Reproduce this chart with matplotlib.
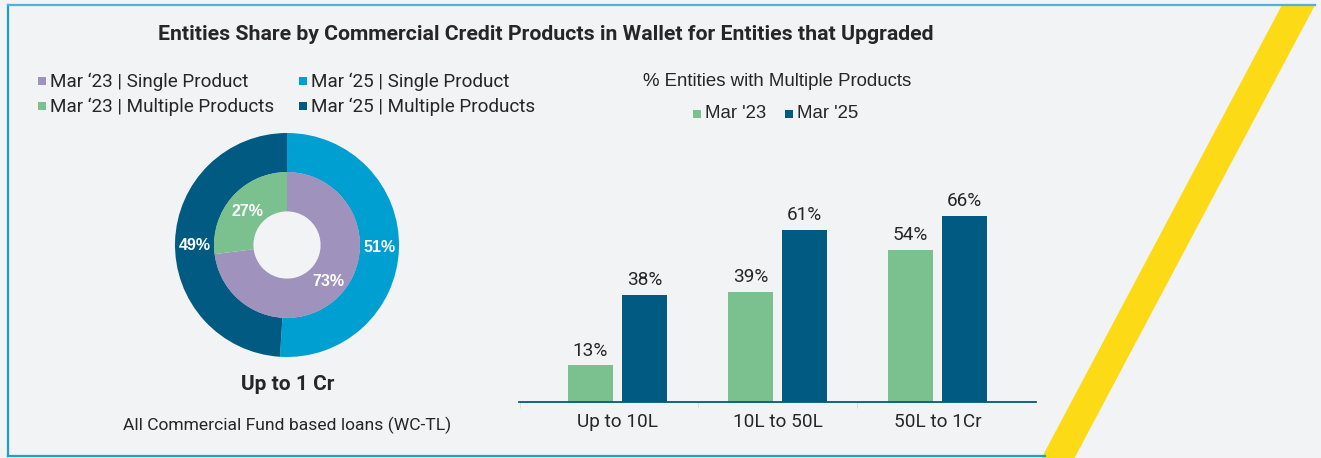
import matplotlib.pyplot as plt
from matplotlib.patches import Polygon, Rectangle
from matplotlib.lines import Line2D
import numpy as np

W, H = 1321, 458

# donut data
outer_labels = ["Mar \u201825 | Single Product", "Mar \u201825 | Multiple Products"]
outer_vals = [51, 49]
inner_labels = ["Mar \u201823 | Single Product", "Mar \u201823 | Multiple Products"]
inner_vals = [73, 27]

# bar data
bands = ["Up to 10L", "10L to 50L", "50L to 1Cr"]
mar23 = [13, 39, 54]
mar25 = [38, 61, 66]

c_purple = "#9F93BE"
c_green = "#7BC08F"
c_lblue = "#009FD1"
c_dblue = "#005A82"
bg = "#F2F3F5"
txt = "#262626"

fig = plt.figure(figsize=(W / 100, H / 100), dpi=100, facecolor=bg)


def px(x, y):
    return x / W, 1 - y / H


def ftext(x, y, s, **kw):
    fx, fy = px(x, y)
    fig.text(fx, fy, s, **kw)


# frame and yellow stripe
fig.add_artist(Line2D([px(8, 0)[0], px(8, 0)[0]], [px(0, 5)[1], px(0, 456)[1]],
                      color="#1BA0D4", lw=1.6, transform=fig.transFigure))
fig.add_artist(Line2D([px(8, 0)[0], px(1315, 0)[0]], [px(0, 5)[1]] * 2,
                      color="#4DB3D9", lw=1.6, transform=fig.transFigure))
fig.add_artist(Line2D([px(8, 0)[0], px(1045, 0)[0]], [px(0, 456)[1]] * 2,
                      color="#1BA0D4", lw=1.6, transform=fig.transFigure))
fig.add_artist(Polygon([px(1282, 5), px(1315, 5), px(1074, 459), px(1041, 459)],
                       closed=True, facecolor="#FDDA16", edgecolor="none",
                       transform=fig.transFigure))

ftext(546, 34, "Entities Share by Commercial Credit Products in Wallet for Entities that Upgraded",
      ha="center", va="center", fontsize=15.3, fontweight="bold", family="Roboto", color=txt)

# donut
cx, cy, R = 287, 245, 112
l, b = px(cx - R, cy + R)
ax_p = fig.add_axes([l, b, 2 * R / W, 2 * R / H])
ax_p.pie(outer_vals, colors=[c_lblue, c_dblue], startangle=90, counterclock=False,
         radius=1, wedgeprops=dict(width=0.35, edgecolor="none"))
ax_p.pie(inner_vals, colors=[c_purple, c_green], startangle=90, counterclock=False,
         radius=0.652, wedgeprops=dict(width=0.352, edgecolor="none"))
ax_p.set_aspect("equal")
ax_p.set_xlim(-1, 1)
ax_p.set_ylim(-1, 1)
ax_p.axis("off")

lab_kw = dict(ha="center", va="center", fontsize=11.5, fontweight="bold",
              family="Liberation Sans", color="white")
ax_p.text((380 - cx) / R, -(248 - cy) / R, f"{outer_vals[0]}%", **lab_kw)
ax_p.text((195 - cx) / R, -(245 - cy) / R, f"{outer_vals[1]}%", **lab_kw)
ax_p.text((328 - cx) / R, -(282 - cy) / R, f"{inner_vals[0]}%", **lab_kw)
ax_p.text((247 - cx) / R, -(211 - cy) / R, f"{inner_vals[1]}%", **lab_kw)

ftext(288, 385, "Up to 1 Cr", ha="center", va="center", fontsize=15,
      fontweight="bold", family="Roboto", color=txt)
ftext(287, 425, "All Commercial Fund based loans (WC-TL)", ha="center", va="center",
      fontsize=12.6, family="Roboto", color=txt)

# donut legend
leg = [(42, 81, c_purple, inner_labels[0]), (303, 81, c_lblue, outer_labels[0]),
       (42, 106, c_green, inner_labels[1]), (303, 106, c_dblue, outer_labels[1])]
for x, y, c, s in leg:
    fig.add_artist(Rectangle(px(x - 4, y + 4), 8 / W, 8 / H, facecolor=c,
                             edgecolor="none", transform=fig.transFigure))
    ftext(x + 8, y + 1, s, ha="left", va="center", fontsize=13.6, family="Roboto", color=txt)

# bar chart
ftext(777, 82, "% Entities with Multiple Products", ha="center", va="center",
      fontsize=13.4, family="Liberation Sans", color=txt)
for x, c, s in [(697, c_green, "Mar '23"), (789, c_dblue, "Mar '25")]:
    fig.add_artist(Rectangle(px(x - 4, 114 + 4), 8 / W, 8 / H, facecolor=c,
                             edgecolor="none", transform=fig.transFigure))
    ftext(x + 8, 114, s, ha="left", va="center", fontsize=13.4,
          family="Liberation Sans", color=txt)

scale = 2.82
top = 80
l, b = px(519, 402)
ax = fig.add_axes([l, b, (1036 - 519) / W, top * scale / H])
ax.set_facecolor("none")
xs = np.arange(len(bands))
off, bw = 27 / 160, 45 / 160
b1 = ax.bar(xs - off, mar23, bw, color=c_green)
b2 = ax.bar(xs + off, mar25, bw, color=c_dblue)
for bars in (b1, b2):
    for r in bars:
        ax.annotate(f"{int(r.get_height())}%", (r.get_x() + r.get_width() / 2, r.get_height()),
                    xytext=(0, 4), textcoords="offset points", ha="center", va="bottom",
                    fontsize=13.7, family="Roboto", color=txt)
ax.set_xlim(-0.616, 2.616)
ax.set_ylim(0, top)
for s in ["top", "right", "left"]:
    ax.spines[s].set_visible(False)
ax.spines["bottom"].set_color(c_dblue)
ax.spines["bottom"].set_linewidth(1.3)
ax.set_yticks([])
ax.set_xticks(xs)
ax.set_xticklabels(bands, fontsize=13.7, family="Roboto", color=txt)
ax.tick_params(axis="x", length=0, pad=8)
ax.set_xticks([-0.61, 0.5, 1.5], minor=True)
ax.tick_params(axis="x", which="minor", length=4, color="#D9D9D9")

fig.savefig("out.png", dpi=100, facecolor=bg)
